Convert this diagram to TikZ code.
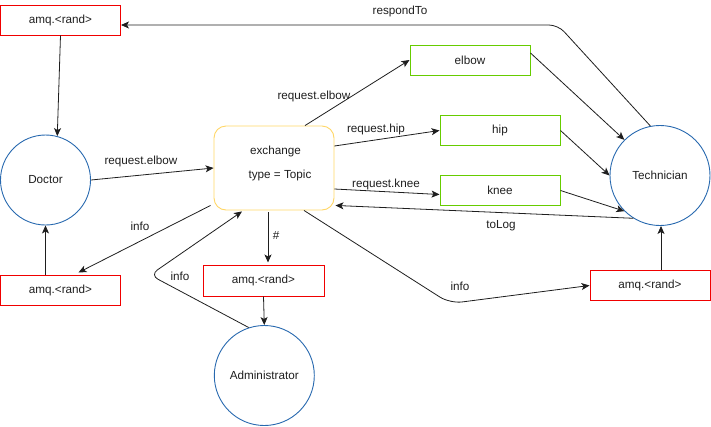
\documentclass[tikz,border=0pt]{standalone}
\usepackage{fontspec}
\setmainfont{Liberation Sans}
\usetikzlibrary{arrows.meta,calc}
\definecolor{inkgray}{RGB}{30,30,30}
\definecolor{actorblue}{RGB}{40,105,175}
\definecolor{queuered}{RGB}{240,0,0}
\definecolor{routegreen}{RGB}{102,204,0}
\definecolor{exyellow}{RGB}{255,214,102}
\tikzset{
  txt/.style={font=\fontsize{11.7}{14}\selectfont, text=inkgray, inner sep=0pt},
  queue/.style={txt, draw=queuered, line width=1pt, minimum width=120pt, minimum height=30pt},
  route/.style={txt, draw=routegreen, line width=1pt, minimum width=120pt, minimum height=30pt},
  actor/.style={txt, draw=actorblue, line width=0.9pt, circle},
  exbox/.style={draw=exyellow, line width=0.9pt, rounded corners=12pt, minimum width=120pt, minimum height=84pt, inner sep=0pt},
  lbl/.style={txt},
  link/.style={draw=inkgray, line width=0.8pt, -{Stealth[length=8pt,width=7pt,inset=2pt]}},
}
\begin{document}
\begin{tikzpicture}[x=1pt,y=-1pt]
\useasboundingbox (0,0) rectangle (711,426);

% actors
\node[actor, minimum size=90pt] (doc) at (45.5,180) {Doctor};
\node[actor, minimum size=100pt] (tech) at (660,175.5) {Technician};
\node[actor, minimum size=100pt] (admin) at (264.3,375.5) {Administrator};

% topic exchange
\node[exbox] (ex) at (274,168) {};
\node[txt] (exname) at (275.5,151) {exchange};
\node[txt] (extype) at (280,175) {type = Topic};

% routing queues
\node[route] (elbow) at (470,60) {elbow};
\node[route] (hip) at (500,130.5) {hip};
\node[route] (knee) at (500,190.5) {knee};

% reply queues
\node[queue] (q1) at (60.5,20) {amq.<rand>};
\node[queue] (q2) at (60.5,290) {amq.<rand>};
\node[queue, minimum width=121pt, minimum height=31pt] (q3) at (263.5,280.5) {amq.<rand>};
\node[queue] (q4) at (650,285.5) {amq.<rand>};

% bend points
\coordinate (cResp) at (558,25);
\coordinate (cAdmin) at (150,275);
\coordinate (cLog) at (450,303.5);

% connectors
\draw[link] (q1.south) -- (doc.75);
\draw[link] (doc.east) -- (ex.west);
\draw[link] ($(ex.north)+(31,0)$) -- (elbow.west);
\draw[link] ($(ex.east)+(0,-22)$) -- (hip.west);
\draw[link] ($(ex.east)+(0,21)$) -- ($(knee.west)+(0,4)$);
\draw[link] ($(elbow.east)+(0,-7)$) -- (tech.135);
\draw[link] (hip.east) -- (tech.west);
\draw[link] (knee.east) -- (tech.225);
\draw[link, rounded corners=9pt] (tech.101) -- (cResp) -- ($(q1.east)+(0,5)$);
\draw[link] (tech.238) -- ($(ex.south east)+(1,-5)$);
\draw[link] ($(ex.south west)+(-3,-5)$) -- ($(q2.north)+(18,-2)$);
\draw[link] ($(q2.north)+(-15,0)$) -- (doc.south);
\draw[link] ($(ex.south)+(-6,2)$) -- ($(q3.north)+(4.5,-2)$);
\draw[link] (q3.south) -- (admin.north);
\draw[link, rounded corners=9pt] (admin.108) -- (cAdmin) -- ($(ex.south)+(-32,1)$);
\draw[link, rounded corners=12pt] ($(ex.south)+(30,0)$) -- (cLog) -- (q4.west);
\draw[link] ($(q4.north)+(11,0)$) -- ($(tech.south)+(1,0)$);

% connector labels
\node[lbl] (lResp) at (400,11) {respondTo};
\node[lbl] (lDoc) at (141,161) {request.elbow};
\node[lbl] (lElbow) at (314,96) {request.elbow};
\node[lbl] (lHip) at (376,129) {request.hip};
\node[lbl] (lKnee) at (386,184) {request.knee};
\node[lbl] (lLog) at (501,226) {toLog};
\node[lbl] (lInfoA) at (140,226) {info};
\node[lbl] (lHash) at (276,235) {\#};
\node[lbl] (lInfoB) at (180,276) {info};
\node[lbl] (lInfoC) at (460,286) {info};
\end{tikzpicture}
\end{document}
